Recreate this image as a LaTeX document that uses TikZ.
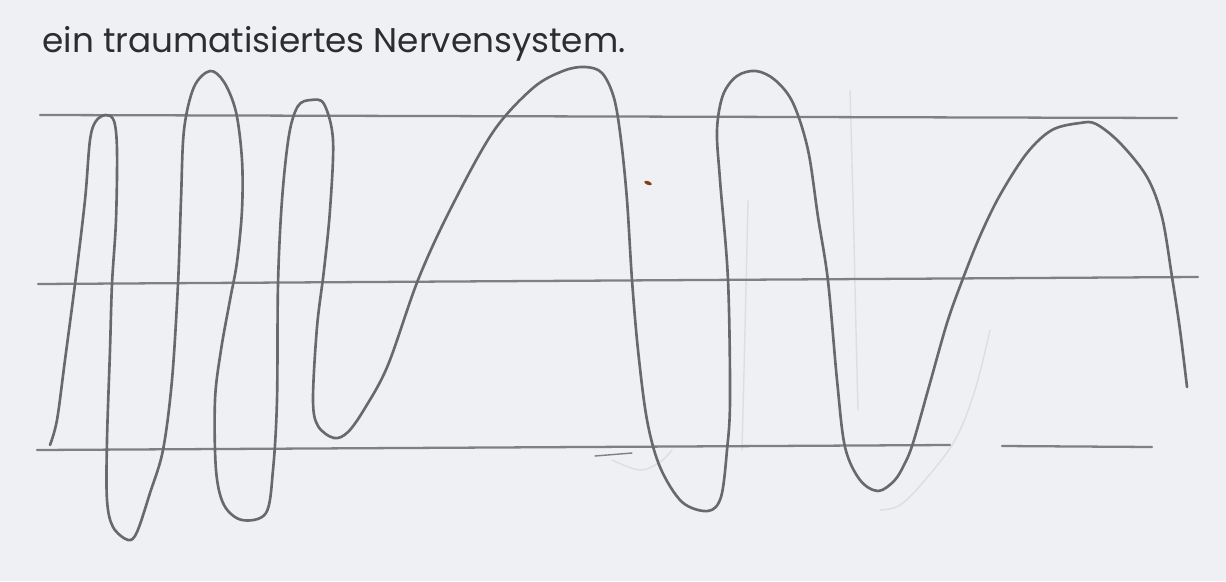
\documentclass[tikz,border=0pt]{standalone}
\usepackage{fontspec}
\setmainfont{Poppins}
\definecolor{paper}{RGB}{238,240,244}
\definecolor{rule}{RGB}{128,128,130}
\definecolor{pencil}{RGB}{105,105,108}
\definecolor{ghost}{RGB}{220,222,226}
\definecolor{ink}{RGB}{45,45,48}
\definecolor{speck}{RGB}{140,60,20}
\tikzset{
  ruling/.style={draw=rule, line width=1.3pt, line cap=round},
  wave/.style={draw=pencil, line width=1.5pt, line cap=round, line join=round},
  faint/.style={draw=ghost, line width=0.8pt, line cap=round},
  title/.style={font=\fontsize{19.5}{22}\selectfont, text=ink, inner sep=0pt}
}
\begin{document}
\begin{tikzpicture}[x=0.02cm, y=-0.02cm]
\fill[paper] (0,0) rectangle (1226,581);
\useasboundingbox (0,0) rectangle (1226,581);

% title
\node[title, anchor=base west] (title) at (42,53) {ein traumatisiertes Nervensystem.};

% faint erased strokes
\draw[faint] plot[smooth, tension=0.6] coordinates {(850,90) (853,200) (856,330) (858,410)};
\draw[faint] plot[smooth, tension=0.6] coordinates {(990,330) (975,390) (955,440) (925,480) (900,505) (880,510)};
\draw[faint] plot[smooth, tension=0.6] coordinates {(748,200) (745,330) (742,450)};
\draw[faint] plot[smooth, tension=0.6] coordinates {(612,460) (640,470) (660,462) (672,450)};

% ruled lines
\draw[ruling] (40,115) -- (1177,118);
\draw[ruling] (38,284) -- (1198,277);
\draw[ruling] (37,450) -- (950,445);
\draw[ruling] (1002,446) -- (1152,447);
\draw[draw=rule, line width=0.8pt, line cap=round] (595,456) -- (632,453);

% speck
\fill[speck] (648,183) ellipse [x radius=4, y radius=1.8, rotate=-20];

% the wave
\draw[wave] plot[smooth, tension=0.55] coordinates {
 (50,445) (57,420) (65,360) (75,284) (85,200) (90,140) (96,121) (106,115) (114,121)
 (117,150) (116,220) (112,284) (110,350) (107,440) (107,500) (113,527) (128,540) (137,532)
 (150,493) (163,450) (172,380) (178,284) (181,200) (184,130) (194,87) (210,71) (224,82)
 (236,112) (242,160) (242,210) (237,262) (230,300) (221,350) (215,400) (216,470) (224,505) (242,520) (266,513)
 (273,470) (277,400) (278,284) (282,200) (289,135) (298,106) (311,100) (324,104)
 (333,140) (330,210) (324,270) (317,327) (313,400) (318,426) (334,438) (348,432)
 (365,408) (388,365) (418,280) (450,210) (493,132) (533,88) (563,71) (585,67)
 (602,73) (614,98) (621,140) (627,200) (632,280) (638,350) (647,420) (660,467) (682,502) (708,511) (721,497)
 (727,450) (730,400) (728,280) (720,180) (717,130) (723,95) (737,76) (756,71) (775,80)
 (793,103) (808,150) (818,217) (828,281) (837,380) (845,447) (860,480) (878,491) (894,481)
 (904,465) (913,443) (930,383) (947,323) (962,281) (980,236) (1000,195) (1027,153) (1052,130) (1080,123) (1096,124)
 (1120,143) (1147,177) (1162,217) (1172,277) (1180,330) (1187,387)
};
\end{tikzpicture}
\end{document}
